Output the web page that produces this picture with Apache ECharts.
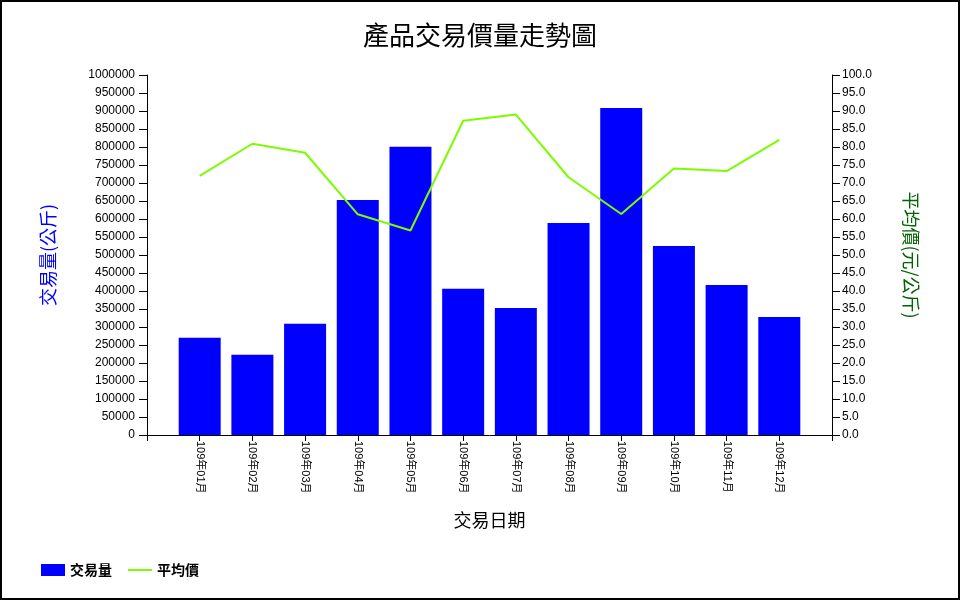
<!DOCTYPE html>
<html>
<head>
<meta charset="utf-8">
<script src="https://cdn.jsdelivr.net/npm/echarts@6/dist/echarts.min.js"></script>
<style>
html,body{margin:0;padding:0;background:#fff;}
#c{width:960px;height:600px;}
</style>
</head>
<body>
<div id="c"></div>
<script>
const categories = ['109年01月','109年02月','109年03月','109年04月','109年05月','109年06月','109年07月','109年08月','109年09月','109年10月','109年11月','109年12月'];
const volumes = [270000, 223000, 309000, 653000, 801000, 406000, 353000, 589000, 908000, 525000, 417000, 328000];
const prices = [72.0, 80.9, 78.4, 61.3, 56.8, 87.3, 89.0, 71.6, 61.4, 74.0, 73.3, 82.0];

const FONT = '"Liberation Sans", "Noto Sans CJK TC", sans-serif';
const chart = echarts.init(document.getElementById('c'), null, {renderer: 'canvas'});
const axisLine = {show: true, lineStyle: {color: '#000', width: 1}};
const tick = {show: true, inside: false, length: 8, lineStyle: {color: '#000', width: 1}};
chart.setOption({
  animation: false,
  backgroundColor: '#fff',
  textStyle: {fontFamily: FONT},
  title: {
    text: '產品交易價量走勢圖',
    left: 'center', top: 17,
    textStyle: {fontFamily: '"Noto Sans CJK TC", serif', fontSize: 26, fontWeight: 'normal', color: '#000'}
  },
  legend: {
    left: 36, top: 558,
    itemWidth: 24, itemHeight: 12, itemGap: 16,
    textStyle: {fontFamily: '"Noto Sans CJK TC", sans-serif', fontSize: 14, fontWeight: 'bold', color: '#000'},
    data: [
      {name: '交易量', icon: 'rect'},
      {name: '平均價', icon: 'path://M0,5H24V7H0Z'}
    ]
  },
  graphic: [{
    type: 'rect', silent: true, z: 100,
    shape: {x: 1, y: 1, width: 958, height: 598},
    style: {fill: null, stroke: '#000', lineWidth: 2}
  }],
  grid: {left: 147, right: 128, top: 75, bottom: 165},
  xAxis: {
    type: 'value', min: 0, max: 13, interval: 1,
    name: '交易日期', nameLocation: 'middle', nameGap: 76,
    nameTextStyle: {fontFamily: '"Noto Sans CJK TC", sans-serif', fontSize: 18, color: '#000'},
    axisLine: axisLine,
    axisTick: {show: true, inside: false, length: 6, lineStyle: {color: '#000'}},
    splitLine: {show: false},
    axisLabel: {
      rotate: -90, fontSize: 11, color: '#000', margin: 6,
      formatter: v => categories[v - 1] || ''
    }
  },
  yAxis: [{
    type: 'value', min: 0, max: 1000000, interval: 50000,
    name: '交易量(公斤)', nameLocation: 'middle', nameGap: 90,
    nameTextStyle: {fontFamily: '"Noto Sans CJK TC", serif', fontSize: 18, color: '#0000FF'},
    axisLine: axisLine,
    axisTick: tick,
    splitLine: {show: false},
    axisLabel: {fontSize: 12, color: '#000', margin: 12, formatter: v => String(v)}
  }, {
    type: 'value', min: 0, max: 100, interval: 5, position: 'right',
    name: '平均價(元/公斤)', nameLocation: 'middle', nameGap: 70, nameRotate: -90,
    nameTextStyle: {fontFamily: '"Noto Sans CJK TC", serif', fontSize: 18, color: '#006400'},
    axisLine: axisLine,
    axisTick: tick,
    splitLine: {show: false},
    axisLabel: {fontSize: 12, color: '#000', margin: 10, formatter: v => v.toFixed(1)}
  }],
  series: [{
    name: '交易量', type: 'bar', yAxisIndex: 0,
    barWidth: 42,
    itemStyle: {color: '#0000FF'},
    data: volumes.map((v, i) => [i + 1, v])
  }, {
    name: '平均價', type: 'line', yAxisIndex: 1,
    symbol: 'none',
    lineStyle: {color: '#7CFC00', width: 2},
    itemStyle: {color: '#7CFC00'},
    data: prices.map((v, i) => [i + 1, v])
  }]
});
</script>
</body>
</html>
